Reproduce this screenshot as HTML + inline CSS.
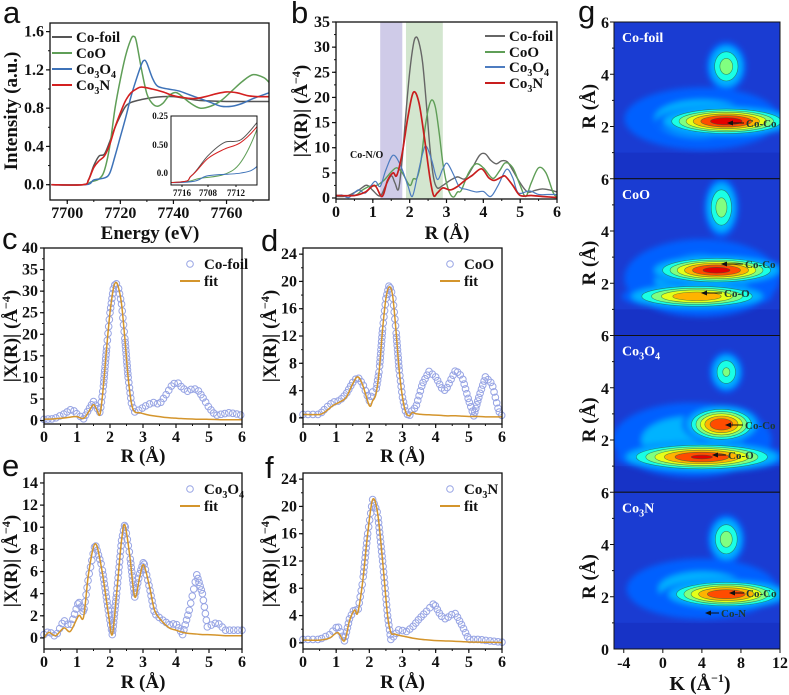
<!DOCTYPE html>
<html><head><meta charset="utf-8">
<style>
html,body{margin:0;padding:0;background:#fff;}
svg{display:block;font-family:"Liberation Serif","DejaVu Serif",serif;}
text{font-family:"Liberation Serif","DejaVu Serif",serif;font-weight:bold;fill:#111;}
text.let{font-family:"Liberation Sans","DejaVu Sans",sans-serif;font-weight:normal;font-size:31px;}
</style></head>
<body>
<svg id="fig" width="789" height="695" viewBox="0 0 789 695" xmlns="http://www.w3.org/2000/svg" font-family="Liberation Serif, DejaVu Serif, serif">
<defs>
<filter id="blur3" x="-50%" y="-50%" width="200%" height="200%"><feGaussianBlur stdDeviation="3"/></filter>
</defs>
</svg>
<script>
// ===== Panel a data (XANES) =====
const aFoilE=[7694,7706,7708,7710,7712,7714,7716,7718,7720,7722,7724,7728,7732,7736,7740,7745,7750,7760,7770,7776];
const aFoilI=[0,0,0.05,0.2,0.3,0.32,0.45,0.6,0.72,0.82,0.86,0.89,0.91,0.92,0.92,0.9,0.88,0.87,0.87,0.87];
const aCoOE=[7694,7706,7709,7712,7714,7716,7718,7720,7722,7724,7725,7726,7728,7730,7732,7734,7736,7738,7740,7742,7746,7750,7754,7758,7762,7766,7770,7774,7776];
const aCoOI=[0,0,0.03,0.06,0.15,0.4,0.8,1.1,1.35,1.52,1.55,1.5,1.2,0.95,0.85,0.82,0.85,0.92,0.96,0.95,0.86,0.8,0.82,0.88,0.98,1.08,1.15,1.12,1.07];
const aCo3O4E=[7694,7707,7710,7714,7716,7718,7720,7722,7724,7726,7728,7729,7730,7732,7734,7738,7742,7746,7750,7754,7758,7762,7766,7770,7776];
const aCo3O4I=[0,0,0.05,0.07,0.12,0.3,0.5,0.7,0.92,1.1,1.26,1.3,1.27,1.12,1.03,1.0,0.98,0.94,0.9,0.86,0.82,0.82,0.85,0.9,0.96];
const aCo3NE=[7694,7706,7708,7710,7712,7714,7716,7718,7720,7722,7724,7726,7728,7732,7736,7740,7744,7748,7752,7756,7760,7764,7768,7772,7776];
const aCo3NI=[0,0,0.05,0.18,0.25,0.3,0.42,0.6,0.75,0.88,0.96,1.0,1.02,1.0,0.97,0.93,0.91,0.9,0.92,0.95,0.97,0.96,0.93,0.92,0.92];
const aXTicks=[7700,7720,7740,7760];
const aYTicks=[0,0.4,0.8,1.2,1.6];
const aYLabels=["0.0","0.4","0.8","1.2","1.6"];
const insetXLabels=["7716","7708","7712"];
const insetYLabels=["0.25","0.50","0.0"];
// ===== EXAFS data =====
const foilR=[0,0.3,0.6,0.8,0.9,1.0,1.2,1.35,1.5,1.6,1.7,1.8,1.9,2.0,2.1,2.17,2.25,2.35,2.45,2.55,2.65,2.75,2.9,3.1,3.3,3.5,3.7,3.9,4.05,4.2,4.35,4.5,4.65,4.8,5.0,5.2,5.4,5.6,5.8,6.0];
const foilExp=[0.3,0.4,1.5,2.5,2.3,1.5,0.4,2.5,4.4,3,1.8,8,17,25,30.5,32,31,27,19,10,4,2,2.5,3.5,4.2,3.8,6,8.5,8.8,7.5,6.8,7.4,7.2,5.5,3,1.2,1.5,1.8,1.6,1.2];
const foilFit=[0.3,0.4,0.6,0.8,0.9,0.9,0.5,2,3.7,2.5,1.5,8,17,25,30.5,32,31,27,19,10,4,2.0,1.8,1.4,1.1,0.9,0.7,0.6,0.5,0.45,0.4,0.35,0.3,0.3,0.28,0.25,0.2,0.2,0.2,0.2];
const cooR=[0,0.5,0.7,0.9,1.1,1.3,1.5,1.65,1.8,2.0,2.1,2.2,2.3,2.4,2.5,2.6,2.7,2.8,2.9,3.0,3.1,3.2,3.3,3.4,3.6,3.8,4.0,4.2,4.3,4.45,4.6,4.8,5.0,5.15,5.3,5.5,5.7,5.9,6.0];
const cooExp=[0.5,0.5,1.5,2.3,2.5,3.5,5.2,6,5,2.5,3.8,4,7,13,17.5,19.5,18,13,7,3,0.8,0.2,1.2,1.5,5,6.8,6,4.2,4,5.5,7,6,2.5,0.3,3,6,5,1,0.3];
const cooFit=[0.5,0.5,1.0,1.8,2.3,3,5,6,4.8,1.8,2.5,3.5,7,13,17.5,19.2,18,13,7,3,0.8,0.3,0.8,0.6,0.5,0.45,0.4,0.35,0.3,0.3,0.3,0.25,0.2,0.2,0.2,0.15,0.15,0.15,0.15];
const co3o4R=[0,0.15,0.35,0.6,0.8,1.05,1.2,1.35,1.55,1.75,1.95,2.07,2.2,2.35,2.45,2.6,2.75,2.9,3.02,3.2,3.35,3.55,3.8,4.0,4.2,4.4,4.63,4.8,4.95,5.25,5.5,5.75,6.0];
const co3o4Exp=[0.3,0.6,0.1,1.6,1.0,3.3,2.3,5.5,8.5,6.5,2.5,0.3,4,8.8,10.3,7.5,3.7,5.8,6.9,4.5,2.2,1.7,1.2,1.3,0.3,2.5,5.7,4,1,1.4,0.7,0.7,0.7];
const co3o4Fit=[0.0,0.5,0.2,0.9,0.6,2.0,1.9,5.8,8.5,6.2,2.2,0.3,4,8.8,10.2,7.4,3.7,5.5,6.6,4.6,2.5,1.6,0.9,0.7,0.5,0.4,0.35,0.3,0.3,0.25,0.2,0.2,0.2];
const co3nR=[0,0.5,0.8,1.05,1.25,1.4,1.55,1.65,1.8,1.95,2.1,2.25,2.4,2.55,2.65,2.75,2.9,3.1,3.3,3.5,3.7,3.95,4.15,4.3,4.5,4.6,4.8,5.0,5.3,5.6,6.0];
const co3nExp=[0.5,0.5,1.2,2.5,0.3,3.5,5,4.5,9,16,21,19,12,4,0.5,1,2,1.6,2.3,3.5,4.5,5.8,4,3.5,4.2,4.3,2.5,0.5,0.5,0.3,0.1];
const co3nFit=[0.4,0.4,0.7,1.5,0.3,3.2,4.8,4.4,9,16,21,19,12,4,1.5,1.3,1.1,0.9,0.7,0.55,0.45,0.35,0.3,0.28,0.25,0.22,0.18,0.12,0.1,0.08,0.05];
const rTicks=[0,1,2,3,4,5,6];
const bYTicks=[0,5,10,15,20,25,30,35];
const cYTicks=[0,5,10,15,20,25,30,35,40];
const dYTicks=[0,4,8,12,16,20,24];
const eYTicks=[0,2,4,6,8,10,12,14];
const fYTicks=[0,4,8,12,16,20,24];
// ===== Panel g wavelet blobs: [k, R, amplitude, sigmaK, sigmaR] =====
const gNames=["Co-foil","CoO","Co3O4","Co3N"];
const gBlobsFoil=[[4,2.3,0.36,8,1.2],[6.5,4.3,0.55,1.5,0.7],[6.5,2.2,0.97,4.2,0.35]];
const gBlobsCoO=[[4,2.2,0.36,8,1.5],[6,4.9,0.55,1.3,0.85],[3.5,1.5,0.8,4.8,0.32],[5.5,2.5,0.95,4.2,0.34]];
const gBlobsCo3O4=[[3,2.0,0.37,8,1.4],[6.5,4.6,0.52,1.3,0.6],[4,1.35,0.92,5.2,0.35],[6,2.6,0.9,2.4,0.45]];
const gBlobsCo3N=[[4,2.3,0.35,8,1.2],[6.5,4.2,0.55,1.4,0.7],[6.5,2.1,0.9,4.0,0.35]];
const gKTicks=[-4,0,4,8,12];
const gRTicks=[2,4,6];

const NS='http://www.w3.org/2000/svg';
const svg=document.getElementById('fig');
function mk(tag,attrs,parent){const e=document.createElementNS(NS,tag);for(const k in attrs)e.setAttribute(k,attrs[k]);(parent||svg).appendChild(e);return e;}
function axes(x0,x1,y0,y1,xmin,xmax,ymin,ymax){
  return {x0,x1,y0,y1,sx:v=>x0+(v-xmin)/(xmax-xmin)*(x1-x0),sy:v=>y1-(v-ymin)/(ymax-ymin)*(y1-y0),xmin,xmax,ymin,ymax};
}
function splinePath(pts){
  let d='M'+pts[0][0].toFixed(2)+','+pts[0][1].toFixed(2);
  for(let i=0;i<pts.length-1;i++){
    const p0=pts[i-1]||pts[i],p1=pts[i],p2=pts[i+1],p3=pts[i+2]||p2;
    const c1=[p1[0]+(p2[0]-p0[0])/6,p1[1]+(p2[1]-p0[1])/6];
    const c2=[p2[0]-(p3[0]-p1[0])/6,p2[1]-(p3[1]-p1[1])/6];
    d+='C'+c1[0].toFixed(2)+','+c1[1].toFixed(2)+' '+c2[0].toFixed(2)+','+c2[1].toFixed(2)+' '+p2[0].toFixed(2)+','+p2[1].toFixed(2);
  }
  return d;
}
function line(ax,xs,ys,color,w,name,parent){
  const pts=xs.map((x,i)=>[ax.sx(x),ax.sy(ys[i])]);
  const p=mk('path',{d:splinePath(pts),fill:'none',stroke:color,'stroke-width':w,'stroke-linejoin':'round'},parent);
  
  
  return p;
}
function circles(ax,xs,ys,name){
  const g=mk('g',{});
  
  
  const dense=[];
  for(let i=0;i<xs.length-1;i++){for(let s=0;s<10;s++){const t=s/10;dense.push([ax.sx(xs[i]+(xs[i+1]-xs[i])*t),ax.sy(ys[i]+(ys[i+1]-ys[i])*t)]);}}
  dense.push([ax.sx(xs[xs.length-1]),ax.sy(ys[ys.length-1])]);
  let acc=99;
  for(let i=0;i<dense.length;i++){
    if(i>0)acc+=Math.hypot(dense[i][0]-dense[i-1][0],dense[i][1]-dense[i-1][1]);
    if(acc>=3.8){acc=0;const c=mk('circle',{cx:dense[i][0],cy:dense[i][1],r:3.3,fill:'none',stroke:'#97a4e4','stroke-width':1},g);
      
      }
  }
}
function text(x,y,str,size,anchor,name,extra){
  const t=mk('text',Object.assign({x,y,'font-size':size,'text-anchor':anchor||'start','font-family':'Liberation Serif, DejaVu Serif, serif','font-weight':'bold'},extra||{}));
  t.textContent=str;
  
  
  return t;
}
function frame(ax,name,xt,xlabels,yt,ylabels,xminor,yminor){
  const g=mk('g',{});
  
  
  const r=mk('rect',{x:ax.x0,y:ax.y0,width:ax.x1-ax.x0,height:ax.y1-ax.y0,fill:'none',stroke:'#111','stroke-width':1.3},g);
  
  
  xt.forEach((v,i)=>{const x=ax.sx(v);mk('line',{x1:x,x2:x,y1:ax.y1,y2:ax.y1+4,stroke:'#111','stroke-width':1.2},g);
    const t=text(x,ax.y1+18,xlabels[i],16,'middle','x-tick-label');g.appendChild(t);});
  yt.forEach((v,i)=>{const y=ax.sy(v);mk('line',{x1:ax.x0-4,x2:ax.x0,y1:y,y2:y,stroke:'#111','stroke-width':1.2},g);
    const t=text(ax.x0-6,y+5,ylabels[i],16,'end','y-tick-label');g.appendChild(t);});
  if(xminor)for(let v=xt[0]-xminor;v<=ax.xmax;v+=xminor){if(v<ax.xmin)continue;const x=ax.sx(v);mk('line',{x1:x,x2:x,y1:ax.y1,y2:ax.y1+2,stroke:'#111','stroke-width':1},g);}
  if(yminor)for(let v=yt[0];v<=ax.ymax;v+=yminor){const y=ax.sy(v);mk('line',{x1:ax.x0-2,x2:ax.x0,y1:y,y2:y,stroke:'#111','stroke-width':1},g);}
}
function yTitle(cx,cy,name,parts){
  const t=mk('text',{transform:`translate(${cx},${cy}) rotate(-90)`,'text-anchor':'middle','font-size':19,'font-family':'Liberation Serif, DejaVu Serif, serif','font-weight':'bold'});
  
  
  t.innerHTML=parts;
  return t;
}
const XR='|X(R)| (Å<tspan font-size="12" dy="-7">−4</tspan><tspan dy="7">)</tspan>';
const RA='R (Å)';
function legendEntry(x,y,type,color,label,name,html){
  const g=mk('g',{});
  
  
  if(type==='line')mk('line',{x1:x,x2:x+20,y1:y,y2:y,stroke:color,'stroke-width':2},g);
  else mk('circle',{cx:x+10,cy:y,r:3.3,fill:'none',stroke:'#97a4e4','stroke-width':1},g);
  const t=mk('text',{x:x+24,y:y+5,'font-size':15,'font-family':'Liberation Serif, DejaVu Serif, serif','font-weight':'bold'},g);
  if(html)t.innerHTML=html;else t.textContent=label;
}
const CO3O4='Co<tspan font-size="10" dy="4">3</tspan><tspan dy="-4">O</tspan><tspan font-size="10" dy="4">4</tspan>';
const CO3N='Co<tspan font-size="10" dy="4">3</tspan><tspan dy="-4">N</tspan>';
function letter(x,y,s,name){
  const t=mk('text',{x,y,'font-size':31,class:'let','font-family':'Liberation Sans, DejaVu Sans, sans-serif','font-weight':'normal'});
  t.textContent=s;
  
  
}

// ===== Panel a =====
const A=axes(50,269,23,200,7693.5,7776,-0.16,1.69);
const cA={foil:'#555555',coo:'#5f9e57',co3o4:'#3d72b8',co3n:'#d42020'};
line(A,aFoilE,aFoilI,cA.foil,1.5,'line-co-foil');
line(A,aCoOE,aCoOI,cA.coo,1.5,'line-coo');
line(A,aCo3O4E,aCo3O4I,cA.co3o4,1.5,'line-co3o4');
line(A,aCo3NE,aCo3NI,cA.co3n,1.6,'line-co3n');
frame(A,'panel-a-axes',aXTicks,aXTicks.map(String),aYTicks,aYLabels,10,0.2);
text(150,239,'Energy (eV)',19,'middle','x-axis-title-a');
yTitle(17,111,'y-axis-title-a','Intensity (a.u.)');
letter(3,23,'a','panel-label-a');
legendEntry(52,37,'line',cA.foil,'Co-foil','legend-co-foil');
legendEntry(52,53,'line',cA.coo,'CoO','legend-coo');
legendEntry(52,69,'line',cA.co3o4,'','legend-co3o4',CO3O4);
legendEntry(52,85,'line',cA.co3n,'','legend-co3n',CO3N);
// inset
const I=axes(171,257,116,185,7705.5,7716,-0.02,0.5);
const ig=mk('g',{});


const icp=mk('clipPath',{id:'insclip'},ig);mk('rect',{x:171,y:116,width:86,height:69},icp);
const icg=mk('g',{'clip-path':'url(#insclip)'},ig);
mk('rect',{x:171,y:116,width:86,height:69,fill:'#fff'},icg);
line(I,aFoilE,aFoilI,cA.foil,1,'inset-co-foil',icg);
line(I,aCoOE,aCoOI,cA.coo,1,'inset-coo',icg);
line(I,aCo3O4E,aCo3O4I,cA.co3o4,1,'inset-co3o4',icg);
line(I,aCo3NE,aCo3NI,cA.co3n,1,'inset-co3n',icg);
mk('rect',{x:171,y:116,width:86,height:69,fill:'none',stroke:'#111','stroke-width':1},ig);
[182,208,236].forEach((x,i)=>{mk('line',{x1:x,x2:x,y1:185,y2:187,stroke:'#111'},ig);const t=text(x,196,insetXLabels[i],9,'middle','inset-x-label');ig.appendChild(t);});
[116,145,173].forEach((y,i)=>{const t=text(168,y+3,insetYLabels[i],9,'end','inset-y-label');ig.appendChild(t);});

// ===== Panel b =====
const B=axes(336,557,22,199,0,6,-0.2,35);
const s1=mk('rect',{x:B.sx(1.2),y:22,width:B.sx(1.8)-B.sx(1.2),height:177,fill:'#cfcbe8'});


const s2=mk('rect',{x:B.sx(1.9),y:22,width:B.sx(2.9)-B.sx(1.9),height:177,fill:'#d3e6cf'});


line(B,foilR,foilExp,'#666',1.4,'b-line-co-foil');
line(B,cooR,cooExp,'#5f9e57',1.4,'b-line-coo');
line(B,co3o4R,co3o4Exp,'#4d7cc0',1.2,'b-line-co3o4');
line(B,co3nR,co3nExp,'#c81e1e',1.7,'b-line-co3n');
frame(B,'panel-b-axes',rTicks,rTicks.map(String),bYTicks,bYTicks.map(String),0.5,2.5);
text(447,239,RA,19,'middle','x-axis-title-b');
yTitle(307,111,'y-axis-title-b',XR);
letter(291,23,'b','panel-label-b');
text(350,158,'Co-N/O',10,'start','annotation-co-n-o');
legendEntry(485,36,'line','#666','Co-foil','legend-b-co-foil');
legendEntry(485,52,'line','#5f9e57','CoO','legend-b-coo');
legendEntry(485,67,'line','#4d7cc0','','legend-b-co3o4',CO3O4);
legendEntry(485,83,'line','#c81e1e','','legend-b-co3n',CO3N);

// ===== Panels c-f =====
function fitPanel(key,ax,R,exp,fit,yt,yminor,lt,lx,ly,legHtml,ytx,xtitleY){
  circles(ax,R,exp,'exp-circles-'+key);
  line(ax,R,fit,'#d4952c',1.5,'fit-line-'+key);
  frame(ax,'panel-'+key+'-axes',rTicks,rTicks.map(String),yt,yt.map(String),0.5,yminor);
  text((ax.x0+ax.x1)/2,xtitleY,RA,19,'middle','x-axis-title-'+key);
  yTitle(ytx,(ax.y0+ax.y1)/2,'y-axis-title-'+key,XR);
  letter(lx,ly,lt,'panel-label-'+key);
  legendEntry(ax.x1-62,ax.y0+16,'circle','','','legend-'+key+'-data',legHtml);
  legendEntry(ax.x1-62,ax.y0+33,'line','#d4952c','fit','legend-'+key+'-fit');
}
const C=axes(44,242,248,424,0,6,-0.8,40);
fitPanel('c',C,foilR,foilExp,foilFit,cYTicks,2.5,'c',2,249,'Co-foil',17,462);
const D=axes(303,502,248,424,0,6,-0.9,24.9);
fitPanel('d',D,cooR,cooExp,cooFit,dYTicks,2,'d',261,251,'CoO',276,462);
const E=axes(44,242,473,649,0,6,-1,14.9);
fitPanel('e',E,co3o4R,co3o4Exp,co3o4Fit,eYTicks,1,'e',2,476,CO3O4,17,688);
const F=axes(303,502,473,649,0,6,-0.9,24.9);
fitPanel('f',F,co3nR,co3nExp,co3nFit,fYTicks,2,'f',265,478,CO3N,276,688);

// ===== Panel g =====
function jet(t){const c=v=>Math.round(255*Math.max(0,Math.min(1,v)));
  return `rgb(${c(1.5-Math.abs(4*t-3))},${c(1.5-Math.abs(4*t-2))},${c(1.5-Math.abs(4*t-1))})`;}
const gx0=614,gx1=780,gTop=22,gH=156.75;
const levels=[0.22,0.3,0.4,0.5,0.6,0.7,0.8,0.9];
const allBlobs=[gBlobsFoil,gBlobsCoO,gBlobsCo3O4,gBlobsCo3N];
const arrows=[[[727,123,746,'Co-Co']],[[721,264,745,'Co-Co'],[701,293,724,'Co-O']],[[725,425,745,'Co-Co'],[712,455,728,'Co-O']],[[729,593,746,'Co-Co'],[705,613,721,'Co-N']]];
const gTitles=['Co-foil','CoO',CO3O4,CO3N];
allBlobs.forEach((blobs,i)=>{
  const top=gTop+i*gH,bot=top+gH;
  const G=axes(gx0,gx1,top,bot,-5,12,0,6);
  const g=mk('g',{});
  
  
  const cp=mk('clipPath',{id:'gclip'+i},g);mk('rect',{x:gx0,y:top,width:gx1-gx0,height:gH},cp);
  const cg=mk('g',{'clip-path':'url(#gclip'+i+')'},g);
  mk('rect',{x:gx0,y:top,width:gx1-gx0,height:gH,fill:'#1a3cd2'},cg);
  mk('rect',{x:gx0,y:G.sy(1.0),width:gx1-gx0,height:G.sy(0)-G.sy(1.0),fill:'#1733c6'},cg);
  const hz=mk('g',{filter:'url(#blur3)'},cg);
  blobs.forEach(b=>{
    const lv=levels.filter(L=>L<b[2]);
    lv.forEach(L=>{
      const f=Math.sqrt(2*Math.log(b[2]/L));
      const e=mk('ellipse',{cx:G.sx(b[0]),cy:G.sy(b[1]),rx:b[3]*f*(G.x1-G.x0)/17,ry:b[4]*f*gH/6,fill:jet(L),stroke:'#2a6040','stroke-width':0.6,'stroke-opacity':L>0.3?0.7:0},L<0.35?hz:cg);
      
      
    });
  });
  arrows[i].forEach(a=>{
    const l=mk('path',{d:`M${a[2]-2},${a[1]} L${a[0]+5},${a[1]}`,stroke:'#111','stroke-width':1},cg);
    
    
    const h=mk('path',{d:`M${a[0]},${a[1]} l6,-2.5 v5 z`,fill:'#111'},cg);
    
    
    const t=text(a[2],a[1]+4,a[3],11,'start','peak-label');t.style.fill='#1c3a30';cg.appendChild(t);
  });
  const tt=mk('text',{x:622,y:top+20,'font-size':14,'font-family':'Liberation Serif, DejaVu Serif, serif','font-weight':'bold'},cg);tt.style.fill='#fff';tt.innerHTML=gTitles[i];
  
  
  mk('rect',{x:gx0,y:top,width:gx1-gx0,height:gH,fill:'none',stroke:'#111','stroke-width':1},g);
  gRTicks.forEach(v=>{const y=G.sy(v);mk('line',{x1:gx0-4,x2:gx0,y1:y,y2:y,stroke:'#111'},g);const t=text(gx0-5,y+6,String(v),16,'end','r-tick-label');g.appendChild(t);});
  for(let v=1;v<6;v+=2){const y=G.sy(v);mk('line',{x1:gx0-2,x2:gx0,y1:y,y2:y,stroke:'#111'},g);}
  yTitle(595,top+gH/2+6,'y-axis-title-g',RA);
});
const Gb=axes(gx0,gx1,gTop,gTop+4*gH,-5,12,0,6);
text(gx0-5,gTop+4*gH+6,'0',16,'end','r-tick-label-0');
gKTicks.forEach(v=>{const x=Gb.sx(v);mk('line',{x1:x,x2:x,y1:Gb.y1,y2:Gb.y1+4,stroke:'#111'});text(x,Gb.y1+19,String(v),16,'middle','k-tick-label');});
const kt=mk('text',{x:700,y:690,'font-size':20,'text-anchor':'middle','font-family':'Liberation Serif, DejaVu Serif, serif','font-weight':'bold'});
kt.innerHTML='K (Å<tspan font-size="12" dy="-8">−1</tspan><tspan dy="8">)</tspan>';


letter(578,22,'g','panel-label-g');
</script>
</body></html>
